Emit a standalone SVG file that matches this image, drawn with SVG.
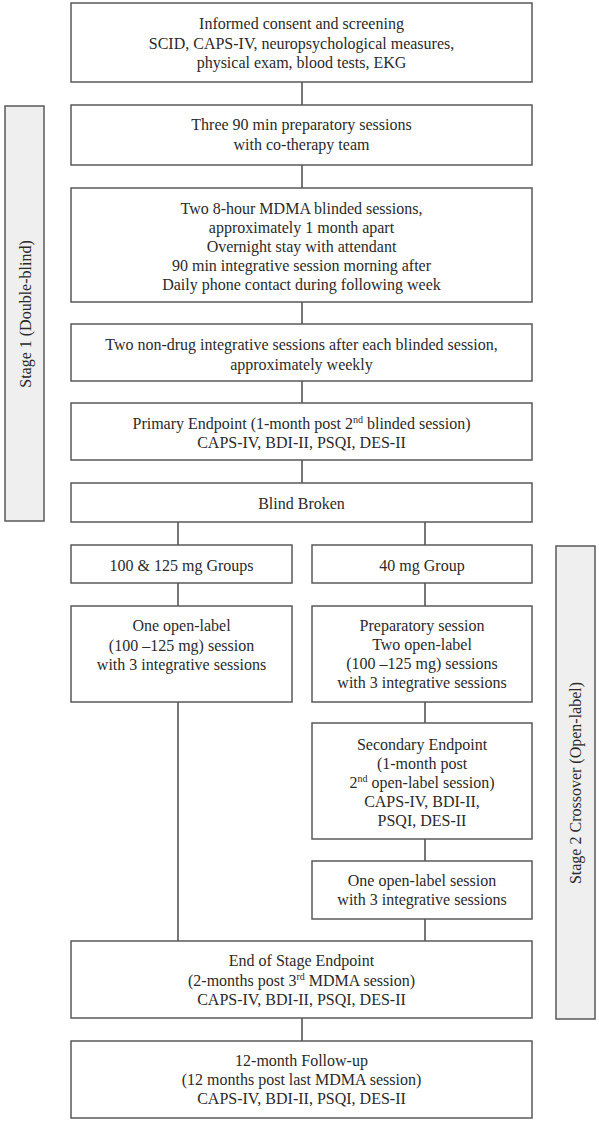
<svg xmlns="http://www.w3.org/2000/svg" width="599" height="1126" viewBox="0 0 599 1126">
<style>
.box{fill:#fff;stroke:#5a5a5a;stroke-width:1.5}
.bar{fill:#efefef;stroke:#5a5a5a;stroke-width:1.5}
.ln{stroke:#4a4a4a;stroke-width:1.5;fill:none}
text{font-family:"Liberation Serif","Times New Roman",serif;font-size:16px;fill:#2a2a2a;text-anchor:middle}
.sup{font-size:10px}
</style>
<rect width="599" height="1126" fill="#fff"/>
<g id="connectors">
<line class="ln" x1="302" y1="82" x2="302" y2="105"/>
<line class="ln" x1="302" y1="165" x2="302" y2="188"/>
<line class="ln" x1="302" y1="302" x2="302" y2="324"/>
<line class="ln" x1="302" y1="381" x2="302" y2="403"/>
<line class="ln" x1="302" y1="460" x2="302" y2="483"/>
<line class="ln" x1="178" y1="522" x2="178" y2="545"/>
<line class="ln" x1="425" y1="522" x2="425" y2="545"/>
<line class="ln" x1="178" y1="583" x2="178" y2="606"/>
<line class="ln" x1="425" y1="583" x2="425" y2="606"/>
<line class="ln" x1="178" y1="702" x2="178" y2="941"/>
<line class="ln" x1="425" y1="702" x2="425" y2="723"/>
<line class="ln" x1="425" y1="839" x2="425" y2="861"/>
<line class="ln" x1="425" y1="919" x2="425" y2="941"/>
<line class="ln" x1="302" y1="1018" x2="302" y2="1041"/>
</g>
<g id="stage1">
<rect class="bar" x="5" y="106" width="39" height="415"/>
<text transform="translate(31,314) rotate(-90)">Stage 1 (Double-blind)</text>
</g>
<g id="stage2">
<rect class="bar" x="556" y="546" width="39" height="473"/>
<text transform="translate(581,783) rotate(-90)">Stage 2 Crossover (Open-label)</text>
</g>
<g id="screening">
<rect class="box" x="71" y="3" width="461" height="79"/>
<text x="301.5" y="29">Informed consent and screening</text>
<text x="301.5" y="48.5">SCID, CAPS-IV, neuropsychological measures,</text>
<text x="301.5" y="67.5">physical exam, blood tests, EKG</text>
</g>
<g id="prep">
<rect class="box" x="71" y="105" width="461" height="60"/>
<text x="301.5" y="130">Three 90 min preparatory sessions</text>
<text x="301.5" y="149.5">with co-therapy team</text>
</g>
<g id="blinded">
<rect class="box" x="71" y="188" width="461" height="114"/>
<text x="301.5" y="214">Two 8-hour MDMA blinded sessions,</text>
<text x="301.5" y="233.3">approximately 1 month apart</text>
<text x="301.5" y="252">Overnight stay with attendant</text>
<text x="301.5" y="271">90 min integrative session morning after</text>
<text x="301.5" y="290">Daily phone contact during following week</text>
</g>
<g id="nondrug">
<rect class="box" x="71" y="324" width="461" height="57"/>
<text x="301.5" y="350">Two non-drug integrative sessions after each blinded session,</text>
<text x="301.5" y="369.5">approximately weekly</text>
</g>
<g id="primary">
<rect class="box" x="71" y="403" width="461" height="57"/>
<text x="301.5" y="429">Primary Endpoint (1-month post 2<tspan class="sup" dy="-6">nd</tspan><tspan dy="6"> blinded session)</tspan></text>
<text x="301.5" y="448">CAPS-IV, BDI-II, PSQI, DES-II</text>
</g>
<g id="blindbroken">
<rect class="box" x="71" y="483" width="461" height="39"/>
<text x="301.5" y="508.5">Blind Broken</text>
</g>
<g id="group100">
<rect class="box" x="71" y="545" width="221" height="38"/>
<text x="181.5" y="571">100 &amp; 125 mg Groups</text>
</g>
<g id="group40">
<rect class="box" x="312" y="545" width="220" height="38"/>
<text x="422" y="571">40 mg Group</text>
</g>
<g id="openlabel1">
<rect class="box" x="71" y="606" width="221" height="96"/>
<text x="181.5" y="631">One open-label</text>
<text x="181.5" y="650.5">(100 –125 mg) session</text>
<text x="181.5" y="669.5">with 3 integrative sessions</text>
</g>
<g id="openlabel2">
<rect class="box" x="312" y="606" width="220" height="96"/>
<text x="422" y="630.5">Preparatory session</text>
<text x="422" y="650">Two open-label</text>
<text x="422" y="669">(100 –125 mg) sessions</text>
<text x="422" y="688">with 3 integrative sessions</text>
</g>
<g id="secondary">
<rect class="box" x="312" y="723" width="220" height="116"/>
<text x="422" y="749.5">Secondary Endpoint</text>
<text x="422" y="768.5">(1-month post</text>
<text x="422" y="787.5">2<tspan class="sup" dy="-6">nd</tspan><tspan dy="6"> open-label session)</tspan></text>
<text x="422" y="807">CAPS-IV, BDI-II,</text>
<text x="422" y="825.5">PSQI, DES-II</text>
</g>
<g id="openlabel3">
<rect class="box" x="312" y="861" width="220" height="58"/>
<text x="422" y="886">One open-label session</text>
<text x="422" y="905">with 3 integrative sessions</text>
</g>
<g id="endofstage">
<rect class="box" x="71" y="941" width="461" height="77"/>
<text x="301.5" y="966">End of Stage Endpoint</text>
<text x="301.5" y="985.5">(2-months post 3<tspan class="sup" dy="-6">rd</tspan><tspan dy="6"> MDMA session)</tspan></text>
<text x="301.5" y="1005">CAPS-IV, BDI-II, PSQI, DES-II</text>
</g>
<g id="followup">
<rect class="box" x="71" y="1041" width="461" height="77"/>
<text x="301.5" y="1066">12-month Follow-up</text>
<text x="301.5" y="1085">(12 months post last MDMA session)</text>
<text x="301.5" y="1104">CAPS-IV, BDI-II, PSQI, DES-II</text>
</g>
</svg>
